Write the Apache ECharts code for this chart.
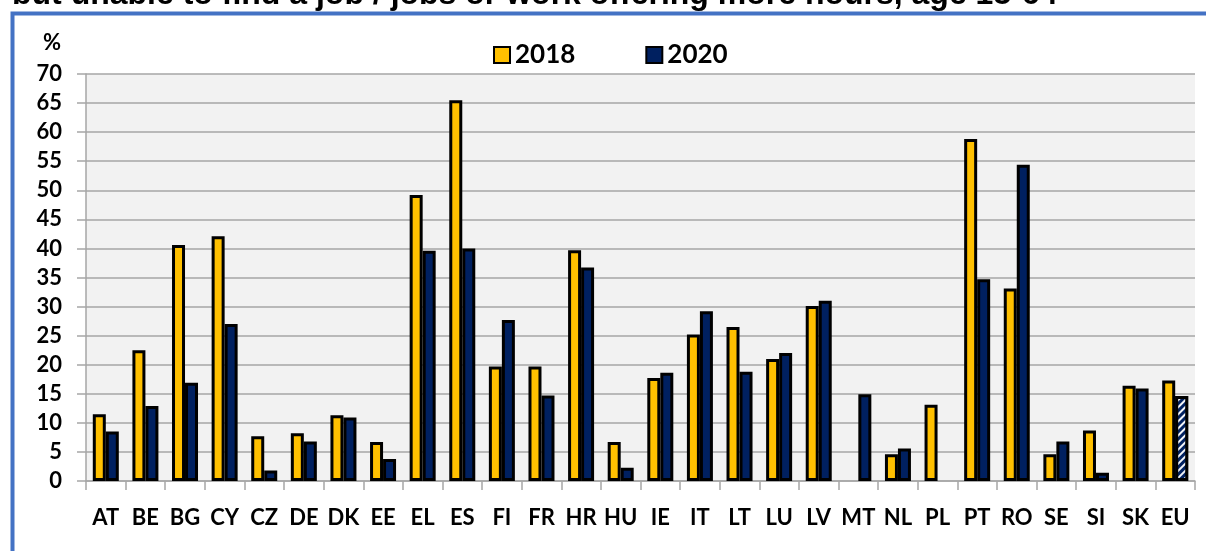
<!DOCTYPE html>
<html>
<head>
<meta charset="utf-8">
<script src="https://cdn.jsdelivr.net/npm/echarts@6/dist/echarts.min.js"></script>
<style>
  html, body { margin: 0; padding: 0; background: #fff; }
  #chart { width: 1206px; height: 551px; }
</style>
</head>
<body>
<div id="chart"></div>
<script>
var countries = ['AT', 'BE', 'BG', 'CY', 'CZ', 'DE', 'DK', 'EE', 'EL', 'ES', 'FI', 'FR', 'HR', 'HU',
    'IE', 'IT', 'LT', 'LU', 'LV', 'MT', 'NL', 'PL', 'PT', 'RO', 'SE', 'SI', 'SK', 'EU'];
var values2018 = [11.5, 22.5, 40.6, 42.1, 7.7, 8.2, 11.3, 6.7, 49.2, 65.5, 19.7, 19.7, 39.7, 6.7,
    17.7, 25.2, 26.5, 21.0, 30.1, null, 4.6, 13.1, 58.8, 33.1, 4.6, 8.7, 16.4, 17.3];
var values2020 = [8.5, 12.9, 16.9, 27.0, 1.8, 6.8, 10.9, 3.8, 39.6, 40.0, 27.7, 14.7, 36.7, 2.3,
    18.6, 29.2, 18.8, 22.0, 31.0, 14.9, 5.6, null, 34.7, 54.4, 6.8, 1.4, 15.9, 14.6];
var yTicks = ['0', '5', '10', '15', '20', '25', '30', '35', '40', '45', '50', '55', '60', '65', '70'];

var font = 'Lato';

// EU 2020 is hatched
var data2020 = values2020.map(function (v, i) {
    if (countries[i] !== 'EU') return v;
    return {
        value: v,
        itemStyle: {
            decal: {
                symbol: 'rect',
                color: 'rgba(255,255,255,0.95)',
                backgroundColor: '#002060',
                dashArrayX: [1, 0],
                dashArrayY: [2, 3],
                rotation: -Math.PI / 4,
                symbolSize: 1
            }
        }
    };
});

var myChart = echarts.init(document.getElementById('chart'));
var option = {
    backgroundColor: '#ffffff',
    animation: false,
    graphic: [
        {
            type: 'rect',
            shape: { x: 12.5, y: 13.5, width: 1300, height: 700 },
            style: { fill: 'none', stroke: '#4472c4', lineWidth: 4 },
            z: 0
        },
        {
            type: 'text',
            left: 12,
            top: -21,
            style: {
                text: 'but unable to find a job / jobs or work offering more hours, age 15-64',
                font: 'bold 32px "Liberation Sans"',
                fill: '#000'
            }
        }
    ],
    legend: {
        left: 493,
        top: 42,
        padding: 0,
        itemWidth: 16,
        itemHeight: 16,
        itemGap: 70,
        icon: 'rect',
        textStyle: { fontFamily: font, fontWeight: 'bold', fontSize: 26, color: '#000' },
        data: ['2018', '2020']
    },
    grid: {
        left: 86,
        right: 11,
        top: 74,
        bottom: 70,
        show: true,
        backgroundColor: '#f2f2f2',
        borderWidth: 0,
        containLabel: false
    },
    xAxis: {
        type: 'category',
        data: countries,
        axisLine: { lineStyle: { color: '#a6a6a6', width: 1.5 } },
        axisTick: { show: true, length: 9, lineStyle: { color: '#a6a6a6', width: 1.5 } },
        axisLabel: {
            margin: 26,
            fontFamily: font,
            fontWeight: 'bold',
            fontSize: 22,
            color: '#000',
            interval: 0
        }
    },
    yAxis: {
        type: 'value',
        min: 0,
        max: 70,
        interval: 5,
        name: '%',
        nameLocation: 'end',
        nameGap: 20,
        nameTextStyle: {
            fontFamily: font, fontWeight: 'bold', fontSize: 22, color: '#000',
            align: 'right', padding: [0, 25, 0, 0]
        },
        axisLine: { show: true, lineStyle: { color: '#a6a6a6', width: 1.5 } },
        axisTick: { show: true, length: 9, lineStyle: { color: '#a6a6a6', width: 1.5 } },
        splitLine: { show: true, lineStyle: { color: '#a6a6a6', width: 1.5 } },
        axisLabel: {
            margin: 24,
            fontFamily: font,
            fontWeight: 'bold',
            fontSize: 22,
            color: '#000',
            formatter: function (v) { return yTicks[v / 5]; }
        }
    },
    series: [
        {
            name: '2018',
            type: 'bar',
            data: values2018,
            barWidth: 13,
            barGap: '0%',
            itemStyle: { color: '#ffc000', borderColor: '#000', borderWidth: 3 }
        },
        {
            name: '2020',
            type: 'bar',
            data: data2020,
            barWidth: 13,
            itemStyle: { color: '#002060', borderColor: '#000', borderWidth: 3 }
        }
    ]
};
myChart.setOption(option);
</script>
</body>
</html>
